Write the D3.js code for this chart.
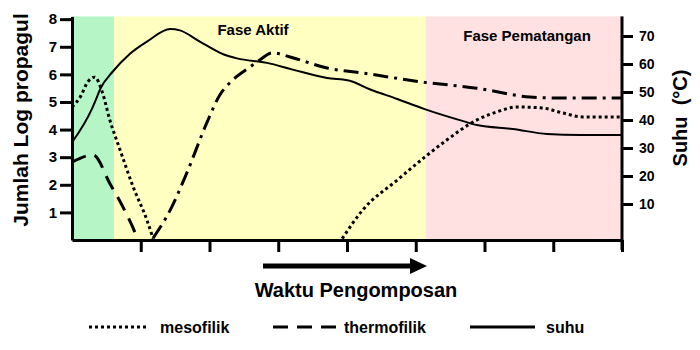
<!DOCTYPE html>
<html><head><meta charset="utf-8">
<script src="https://cdn.jsdelivr.net/npm/d3@7"></script>
<style>
body{margin:0;background:#fff}
text{font-family:"Liberation Sans",Arial,sans-serif;font-weight:bold;fill:#000}
</style>
</head><body><svg id="c" width="700" height="350"></svg>
<script>
// ---- data ----
const phaseNames = ["", "Fase Aktif", "Fase Pematangan"];
const phaseStart = [0, 0.61, 5.15];
const phaseEnd = [0.61, 5.15, 8];

const leftTicks = [1, 2, 3, 4, 5, 6, 7, 8];
const rightTicks = [10, 20, 30, 40, 50, 60, 70];
const timeTicks = [1, 2, 3, 4, 5, 6, 7, 8];

const suhuT = [0, 0.29, 0.36, 0.41, 0.6, 0.84, 1.09, 1.43, 1.57, 1.86, 2.2, 2.4, 2.84, 3.21, 3.71, 4.04, 4.33, 4.73, 5.13, 5.69, 5.89, 6.41, 6.91, 7.39, 8];
const suhuV = [32, 44, 48, 51, 57.5, 63.6, 68, 72.5, 72, 68, 63.5, 62, 60.4, 58, 55, 54, 51, 47.5, 43.9, 39.6, 38.2, 36.8, 35, 34.6, 34.6];

const mesoT = [0, 0.12, 0.23, 0.33, 0.44, 0.55, 0.7, 0.89, 1.09, 1.18, 2.5, 3.93, 4.23, 4.73, 5.13, 5.45, 5.89, 6.18, 6.47, 6.85, 7.14, 7.43, 8];
const mesoV = [4.82, 5.18, 5.73, 5.9, 5.36, 4.35, 3.26, 1.92, 0.72, 0.05, null, 0.05, 1.09, 2.17, 3.0, 3.62, 4.35, 4.64, 4.82, 4.78, 4.6, 4.46, 4.46];

const thermoT = [0, 0.31, 0.55, 0.74, 0.92, 0.96];
const thermoV = [2.82, 3.08, 2.05, 1.2, 0.25, 0];

const thermo2T = [1.18, 1.43, 1.67, 1.96, 2.15, 2.34, 2.59, 2.73, 2.91, 3.21, 3.71, 4.23, 5.1, 5.89, 6.66, 7.14, 8];
const thermo2V = [0.07, 1.09, 2.43, 4.24, 5.25, 5.8, 6.27, 6.52, 6.78, 6.6, 6.23, 6.05, 5.72, 5.5, 5.18, 5.14, 5.14];

const legendNames = ["mesofilik", "thermofilik", "suhu"];
const xTitle = "Waktu Pengomposan";
const yLeftTitle = "Jumlah Log propagul";
const yRightTitle = "Suhu (°C)";

// ---- styles ----
const phaseColors = ["#b6f5c6", "#ffffc2", "#ffe1e1"];
const dashes = ["3,3", "15,9", null];

const svg = d3.select("#c");
const x = d3.scaleLinear([0, 8], [72, 622]);
const yL = d3.scaleLinear([0, 8.1], [240, 16.4]);
const yR = d3.scaleLinear([0, 70], [232, 36]);

// backgrounds
svg.append("g").selectAll("rect").data(phaseNames).join("rect")
  .attr("x", (d, i) => x(phaseStart[i]))
  .attr("width", (d, i) => x(phaseEnd[i]) - x(phaseStart[i]))
  .attr("y", yL(8.1)).attr("height", yL(0) - yL(8.1))
  .attr("fill", (d, i) => phaseColors[i]);

svg.append("text").attr("x", (x(phaseStart[1]) + x(phaseEnd[1])) / 2 - 17).attr("y", 35)
  .attr("text-anchor", "middle").attr("font-size", 15).text(phaseNames[1]);
svg.append("text").attr("x", (x(phaseStart[2]) + x(phaseEnd[2])) / 2 + 3).attr("y", 41)
  .attr("text-anchor", "middle").attr("font-size", 15).text(phaseNames[2]);

// lines
const mk = (ts, vs) => ts.map((t, i) => [t, vs[i]]);
const lineL = d3.line().defined(d => d[1] != null).x(d => x(d[0])).y(d => yL(d[1])).curve(d3.curveMonotoneX);
const lineR = d3.line().x(d => x(d[0])).y(d => yR(d[1])).curve(d3.curveMonotoneX);

svg.append("path").attr("d", lineL(mk(thermo2T, thermo2V))).attr("fill", "none")
  .attr("stroke", "#000").attr("stroke-width", 3).attr("stroke-dasharray", "15,6,3,6");
svg.append("path").attr("d", lineL(mk(mesoT, mesoV))).attr("fill", "none")
  .attr("stroke", "#000").attr("stroke-width", 3).attr("stroke-dasharray", dashes[0]);
svg.append("path").attr("d", lineL(mk(thermoT, thermoV))).attr("fill", "none")
  .attr("stroke", "#000").attr("stroke-width", 3).attr("stroke-dasharray", dashes[1]);
svg.append("path").attr("d", lineR(mk(suhuT, suhuV))).attr("fill", "none")
  .attr("stroke", "#000").attr("stroke-width", 2);

// axes
function styleAxis(g) {
  g.selectAll("path.domain").attr("stroke", "#000").attr("stroke-width", 3);
  g.selectAll(".tick line").attr("stroke", "#000").attr("stroke-width", 3);
  g.selectAll(".tick text").style("font-family", '"Liberation Sans",Arial,sans-serif').style("font-weight", "bold").attr("fill", "#000");
}
const gL = svg.append("g").attr("transform", "translate(72,0)")
  .call(d3.axisLeft(yL).tickValues(leftTicks).tickSize(12).tickSizeOuter(0).tickPadding(3))
  .attr("font-size", 15);
styleAxis(gL);

const gR = svg.append("g").attr("transform", "translate(622,0)")
  .call(d3.axisRight(yR).tickValues(rightTicks).tickSize(11).tickSizeOuter(0).tickPadding(6))
  .attr("font-size", 14);
gR.select("path.domain").remove();
styleAxis(gR);
svg.append("line").attr("x1", 622).attr("x2", 622).attr("y1", yL(8.1)).attr("y2", 250)
  .attr("stroke", "#000").attr("stroke-width", 3);

const gB = svg.append("g").attr("transform", "translate(0,240)")
  .call(d3.axisBottom(x).tickValues(timeTicks).tickSize(12).tickSizeOuter(0).tickFormat(""));
styleAxis(gB);

// axis titles
svg.append("text").attr("transform", `translate(28,${120}) rotate(-90)`)
  .attr("text-anchor", "middle").attr("font-size", 21).text(yLeftTitle);
svg.append("text").attr("transform", `translate(687,${118}) rotate(-90)`)
  .attr("text-anchor", "middle").attr("font-size", 20).style("white-space", "pre").text(yRightTitle.replace(" ", "  "));

// arrow + x title
svg.append("line").attr("x1", 263).attr("x2", 412).attr("y1", 266).attr("y2", 266)
  .attr("stroke", "#000").attr("stroke-width", 5);
svg.append("path").attr("d", "M410,258L427,266L410,274Z").attr("fill", "#000");
svg.append("text").attr("x", 356).attr("y", 297).attr("text-anchor", "middle").attr("font-size", 20).text(xTitle);

// legend
const legX = [89, 273, 470], legW = [58, 64, 65], legTX = [160, 344, 546];
const lg = svg.append("g");
legendNames.forEach((n, i) => {
  const l = lg.append("line").attr("x1", legX[i]).attr("x2", legX[i] + legW[i]).attr("y1", 327).attr("y2", 327)
    .attr("stroke", "#000").attr("stroke-width", 3);
  if (dashes[i]) l.attr("stroke-dasharray", dashes[i]);
  lg.append("text").attr("x", legTX[i]).attr("y", 333).attr("font-size", 16).text(n);
});
</script></body></html>
